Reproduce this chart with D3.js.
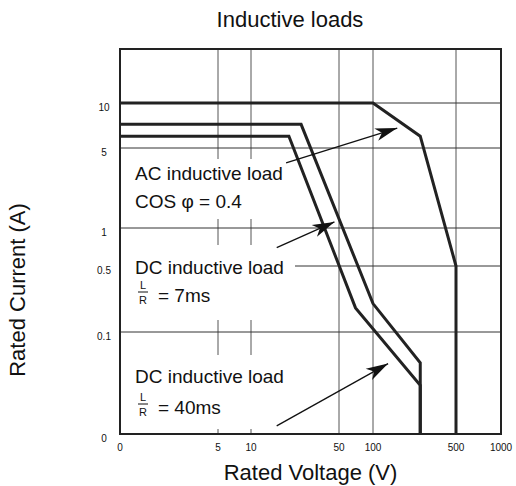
<!DOCTYPE html>
<meta charset="utf-8">
<script src="https://cdn.jsdelivr.net/npm/d3@7"></script>
<style>
  body { margin: 0; background: #fff; }
  text { font-family: "Liberation Sans", Arial, Helvetica, sans-serif; fill: #111; }
</style>
<div id="my_dataviz"></div>
<script>

// tick values and their labels (the "0" stands at the low end of each log axis)
var xTicks = [1, 5, 10, 50, 100, 500, 1000];
var xTickLabels = ["0", "5", "10", "50", "100", "500", "1000"];
var yTicks = [0.01, 0.1, 0.5, 1, 5, 10];
var yTickLabels = ["0", "0.1", "0.5", "1", "5", "10"];

// the three limit curves: [voltage V, current A]
var acLoad = [[1, 10], [100, 10], [250, 6], [500, 0.5], [500, 0.01]];
var dc7ms  = [[1, 7.2], [25, 7.2], [100, 0.2], [250, 0.05], [250, 0.01]];
var dc40ms = [[1, 6], [20, 6], [70, 0.18], [250, 0.03], [250, 0.01]];

// arrows from each label to its curve: [from, to]
var arrows = [
  [[19, 3.7], [160, 6.8]],
  [[16, 0.7], [46, 1.13]],
  [[16, 0.012], [134, 0.049]]
];

var margin = {top: 49, right: 15, bottom: 52, left: 120},
    width = 516 - margin.left - margin.right,
    height = 486 - margin.top - margin.bottom;

var svg = d3.select("#my_dataviz")
  .append("svg")
    .attr("width", 516)
    .attr("height", 486);

var g = svg.append("g")
    .attr("transform", "translate(" + margin.left + "," + margin.top + ")");

// the printed grid is not evenly spaced, so both log scales are piecewise
var x = d3.scaleLog()
  .domain(xTicks)
  .range([0, 98, 131, 219, 253, 336, width]);

var y = d3.scaleLog()
  .domain(yTicks)
  .range([height, 283, 217, 179, 99, 54]);

// grid lines
g.selectAll(".vgrid")
  .data(xTicks.slice(1, -1))
  .enter().append("line")
    .attr("x1", function(d) { return x(d); })
    .attr("x2", function(d) { return x(d); })
    .attr("y1", 0)
    .attr("y2", height)
    .attr("stroke", "#555")
    .attr("stroke-width", 1);

g.selectAll(".hgrid")
  .data(yTicks.slice(1))
  .enter().append("line")
    .attr("x1", 0)
    .attr("x2", width)
    .attr("y1", function(d) { return y(d); })
    .attr("y2", function(d) { return y(d); })
    .attr("stroke", "#333")
    .attr("stroke-width", 1);

// white boxes behind the labels hide the grid there
var boxes = [[110, 60], [196, 75], [306, 74]];
g.selectAll(".box")
  .data(boxes)
  .enter().append("rect")
    .attr("x", 1)
    .attr("y", function(d) { return d[0]; })
    .attr("width", 174)
    .attr("height", function(d) { return d[1]; })
    .attr("fill", "#fff");

// frame
g.append("rect")
  .attr("width", width)
  .attr("height", height)
  .attr("fill", "none")
  .attr("stroke", "#222")
  .attr("stroke-width", 2);

// tick labels
svg.selectAll(".xlab")
  .data(xTicks)
  .enter().append("text")
    .attr("x", function(d) { return margin.left + x(d); })
    .attr("y", margin.top + height + 17)
    .attr("text-anchor", "middle")
    .style("font-size", "10px")
    .text(function(d, i) { return xTickLabels[i]; });

svg.selectAll(".ylab")
  .data(yTicks)
  .enter().append("text")
    .attr("x", margin.left - 16)
    .attr("y", function(d) { return margin.top + y(d) + 8; })
    .attr("text-anchor", "middle")
    .style("font-size", "10px")
    .text(function(d, i) { return yTickLabels[i]; });

// curves
var line = d3.line()
  .x(function(d) { return x(d[0]); })
  .y(function(d) { return y(d[1]); });

g.selectAll(".curve")
  .data([acLoad, dc7ms, dc40ms])
  .enter().append("path")
    .attr("d", line)
    .attr("fill", "none")
    .attr("stroke", "#222")
    .attr("stroke-width", 3)
    .attr("stroke-linejoin", "miter");

// arrows
svg.append("defs").append("marker")
    .attr("id", "head")
    .attr("viewBox", "-23 -7 24 14")
    .attr("refX", 0)
    .attr("refY", 0)
    .attr("markerUnits", "userSpaceOnUse")
    .attr("markerWidth", 24)
    .attr("markerHeight", 14)
    .attr("orient", "auto")
  .append("path")
    .attr("d", "M0,0L-22,-6.5L-16,0L-22,6.5Z")
    .attr("fill", "#111");

g.selectAll(".arrow")
  .data(arrows)
  .enter().append("line")
    .attr("x1", function(d) { return x(d[0][0]); })
    .attr("y1", function(d) { return y(d[0][1]); })
    .attr("x2", function(d) { return x(d[1][0]); })
    .attr("y2", function(d) { return y(d[1][1]); })
    .attr("stroke", "#111")
    .attr("stroke-width", 1.3)
    .attr("marker-end", "url(#head)");

// labels inside the plot
var notes = g.append("g").style("font-size", "19px");
notes.append("text").attr("x", 15).attr("y", 131).text("AC inductive load");
notes.append("text").attr("x", 15).attr("y", 159).text("COS \u03c6 = 0.4");
notes.append("text").attr("x", 15).attr("y", 225).text("DC inductive load");
notes.append("text").attr("x", 15).attr("y", 334).text("DC inductive load");

// L/R fractions
function fraction(top, ms) {
  notes.append("text").attr("x", 23).attr("y", top + 9)
    .attr("text-anchor", "middle").style("font-size", "11px").text("L");
  notes.append("line").attr("x1", 18).attr("x2", 28)
    .attr("y1", top + 12).attr("y2", top + 12)
    .attr("stroke", "#111").attr("stroke-width", 1);
  notes.append("text").attr("x", 23).attr("y", top + 24)
    .attr("text-anchor", "middle").style("font-size", "11px").text("R");
  notes.append("text").attr("x", 38).attr("y", top + 22).text("= " + ms);
}
fraction(231, "7ms");
fraction(343, "40ms");

// title and axis names
svg.append("text")
  .attr("x", 290)
  .attr("y", 27)
  .attr("text-anchor", "middle")
  .style("font-size", "22px")
  .text("Inductive loads");

svg.append("text")
  .attr("x", margin.left + width / 2)
  .attr("y", 480)
  .attr("text-anchor", "middle")
  .style("font-size", "22px")
  .text("Rated Voltage (V)");

svg.append("text")
  .attr("transform", "translate(25," + 290 + ") rotate(-90)")
  .attr("text-anchor", "middle")
  .style("font-size", "22px")
  .text("Rated Current (A)");

</script>
